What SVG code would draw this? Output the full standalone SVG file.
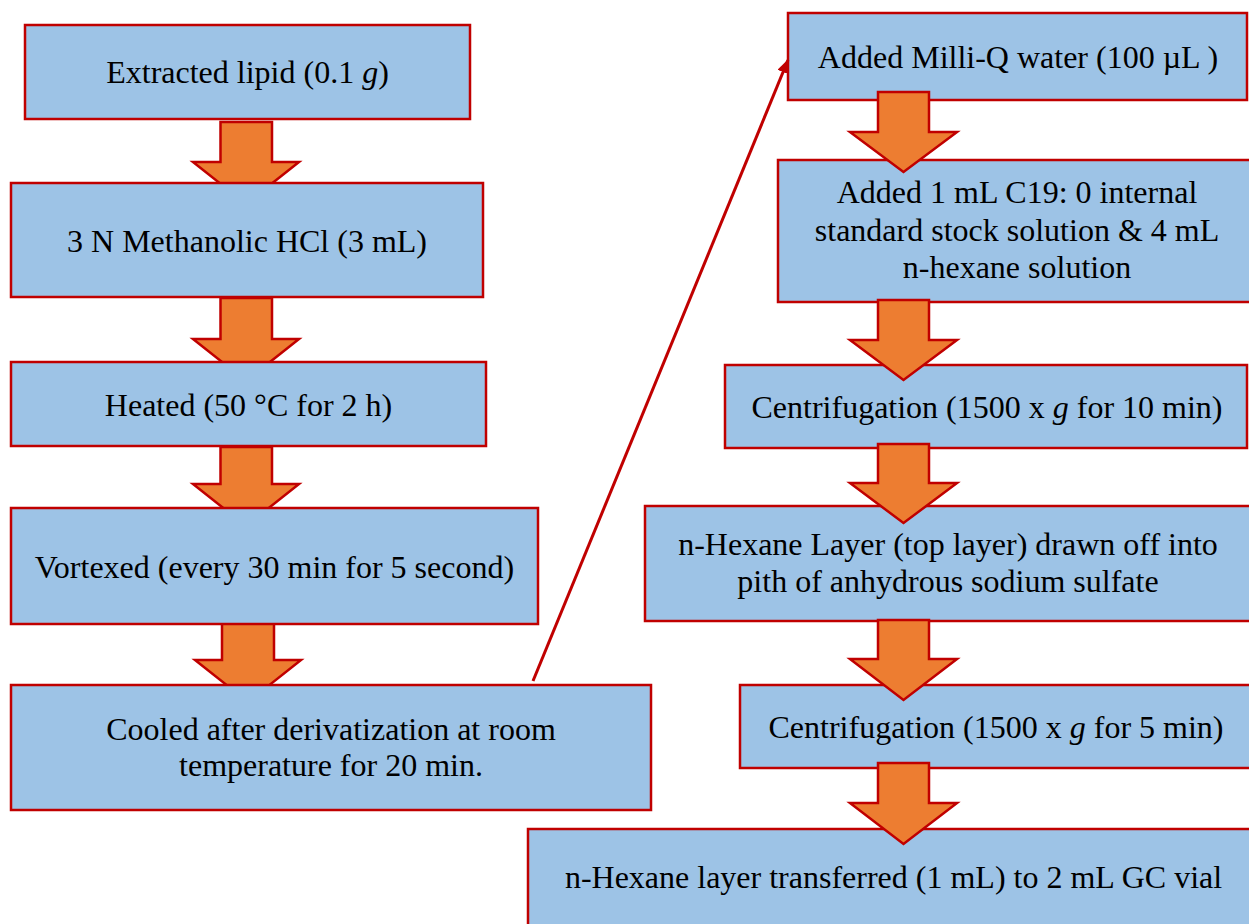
<svg xmlns="http://www.w3.org/2000/svg" width="1249" height="924" viewBox="0 0 1249 924">
<defs>
<style>
.box{fill:#9DC3E6;stroke:#C00000;stroke-width:2.5}
.arr{fill:#ED7D31;stroke:#C00000;stroke-width:2.5;stroke-linejoin:miter}
.t{font-family:"Liberation Serif","Times New Roman",serif;font-size:32px;fill:#000;text-anchor:middle}
.conn{stroke:#C00000;stroke-width:3;fill:none}
</style>
<marker id="ah" viewBox="0 0 14 12" markerWidth="14" markerHeight="12" refX="13" refY="6" orient="auto" markerUnits="userSpaceOnUse">
<path d="M0,0 L14,6 L0,12 Z" fill="#C00000"/>
</marker>
</defs>
<rect width="1249" height="924" fill="#fff"/>

<!-- left column arrows (under boxes) -->
<g id="left-arrows">
<polygon class="arr" points="220.5,122 272,122 272,162 299,162 246,204 193,162 220.5,162"/>
<polygon class="arr" points="220.5,298 272,298 272,339 299,339 246,381 193,339 220.5,339"/>
<polygon class="arr" points="220.5,447 272,447 272,484 299,484 246,526 193,484 220.5,484"/>
<polygon class="arr" points="222,620 274,620 274,660 301,660 248,702 195,660 222,660"/>
</g>

<g id="n1"><rect class="box" x="25" y="25" width="445" height="94"/>
<text class="t" x="247.5" y="83">Extracted lipid (0.1 <tspan font-style="italic">g</tspan>)</text></g>
<g id="n2"><rect class="box" x="11" y="183" width="472" height="114"/>
<text class="t" x="247" y="252">3 N Methanolic HCl (3 mL)</text></g>
<g id="n3"><rect class="box" x="11" y="362" width="475" height="84"/>
<text class="t" x="248.5" y="416">Heated (50 °C for 2 h)</text></g>
<g id="n4"><rect class="box" x="11" y="508" width="527" height="116"/>
<text class="t" x="274.5" y="578">Vortexed (every 30 min for 5 second)</text></g>
<g id="n5"><rect class="box" x="11" y="685" width="640" height="125"/>
<text class="t" x="331" y="740">Cooled after derivatization at room</text>
<text class="t" x="331" y="776">temperature for 20 min.</text></g>

<g id="n6"><rect class="box" x="788" y="13" width="459" height="87"/>
<text class="t" x="1018" y="68">Added Milli-Q water (100 µL )</text></g>
<g id="n7"><rect class="box" x="778" y="160" width="490" height="142"/>
<text class="t" x="1017" y="203">Added 1 mL C19: 0 internal</text>
<text class="t" x="1017" y="240.5">standard stock solution &amp; 4 mL</text>
<text class="t" x="1017" y="278">n-hexane solution</text></g>
<g id="n8"><rect class="box" x="725" y="365" width="522" height="83"/>
<text class="t" x="987" y="418">Centrifugation (1500 x <tspan font-style="italic">g</tspan> for 10 min)</text></g>
<g id="n9"><rect class="box" x="645" y="506" width="620" height="115"/>
<text class="t" x="948" y="555">n-Hexane Layer (top layer) drawn off into</text>
<text class="t" x="948" y="592">pith of anhydrous sodium sulfate</text></g>
<g id="n10"><rect class="box" x="740" y="685" width="530" height="83"/>
<text class="t" x="996" y="738">Centrifugation (1500 x <tspan font-style="italic">g</tspan> for 5 min)</text></g>
<g id="n11"><rect class="box" x="528" y="829" width="732" height="120"/>
<text class="t" x="893.5" y="888">n-Hexane layer transferred (1 mL) to 2 mL GC vial</text></g>

<!-- right column arrows (over boxes) and connector -->
<g id="connectors">
<polygon class="arr" points="878,92 929,92 929,132 957,132 903.5,172 850,132 878,132"/>
<polygon class="arr" points="878,300 929,300 929,340 957,340 903.5,380 850,340 878,340"/>
<polygon class="arr" points="878,444 929,444 929,483 957,483 903.5,523 850,483 878,483"/>
<polygon class="arr" points="878,620 929,620 929,659 957,659 903.5,700 850,659 878,659"/>
<polygon class="arr" points="878,763 929,763 929,803 957,803 903.5,844 850,803 878,803"/>
<line class="conn" x1="533" y1="681" x2="788" y2="60" marker-end="url(#ah)"/>
</g>
</svg>
